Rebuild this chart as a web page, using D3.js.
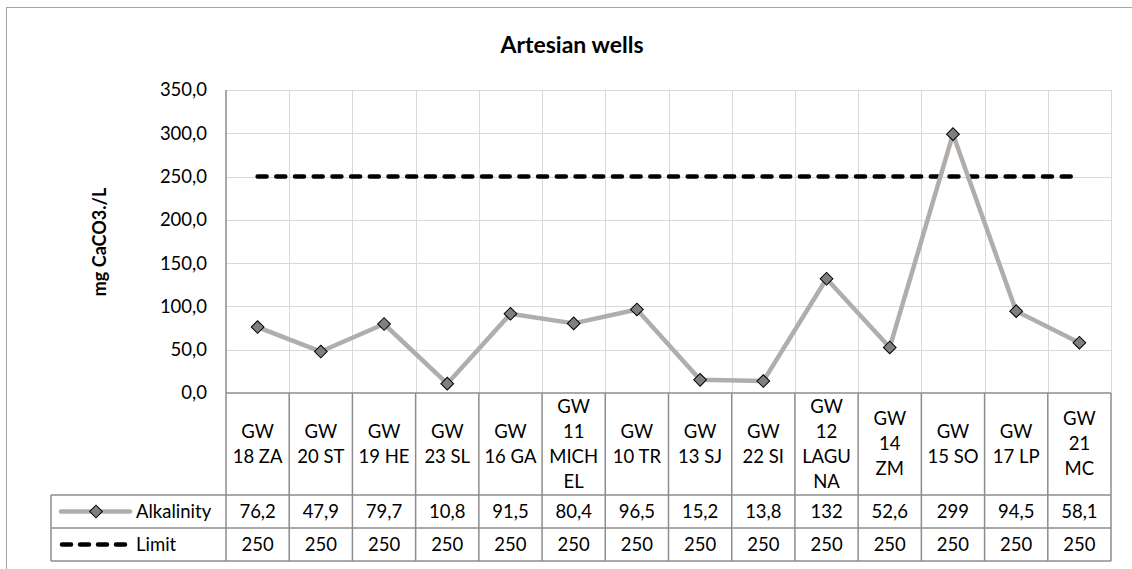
<!DOCTYPE html>
<html>
<head>
<meta charset="utf-8">
<script src="https://cdn.jsdelivr.net/npm/d3@7/dist/d3.min.js"></script>
<style>
  html, body { margin: 0; padding: 0; background: #fff; }
  svg { display: block; font-family: Lato, "DejaVu Sans", sans-serif; }
</style>
</head>
<body>
<svg id="chart" width="1132" height="569"></svg>
<script>
// Well names (lines of each table header cell)
const categories = [
  ["GW", "18 ZA"], ["GW", "20 ST"], ["GW", "19 HE"], ["GW", "23 SL"],
  ["GW", "16 GA"], ["GW", "11", "MICH", "EL"], ["GW", "10 TR"], ["GW", "13 SJ"],
  ["GW", "22 SI"], ["GW", "12", "LAGU", "NA"], ["GW", "14", "ZM"], ["GW", "15 SO"],
  ["GW", "17 LP"], ["GW", "21", "MC"]
];
const alkalinity = [76.2, 47.9, 79.7, 10.8, 91.5, 80.4, 96.5, 15.2, 13.8, 132, 52.6, 299, 94.5, 58.1];
const limit = [250, 250, 250, 250, 250, 250, 250, 250, 250, 250, 250, 250, 250, 250];
const yTicks = [0, 50, 100, 150, 200, 250, 300, 350];
const seriesNames = ["Alkalinity", "Limit"];

const svg = d3.select("#chart");
const W = 1132, H = 569;

const plot = { left: 226, right: 1111, top: 90, bottom: 393 };
const table = { legendLeft: 51, catBottom: 495, rowH: 33 };
const fs = 18.5;

const keys = categories.map(c => c.join(" "));
const x = d3.scaleBand().domain(keys).range([plot.left, plot.right]).padding(0);
const y = d3.scaleLinear().domain([0, 350]).range([plot.bottom, plot.top]);
const cx = k => x(k) + x.bandwidth() / 2;
const fmt = v => String(v).replace(".", ",");

// Chart frame
svg.append("rect")
  .attr("x", 6.5).attr("y", 7.5).attr("width", W).attr("height", H)
  .attr("fill", "none").attr("stroke", "#a6a6a6").attr("stroke-width", 1);

// Title
svg.append("text")
  .attr("x", 572).attr("y", 53)
  .attr("text-anchor", "middle")
  .attr("font-size", 23).attr("font-weight", "bold")
  .text("Artesian wells");

// Y axis title
svg.append("text")
  .attr("transform", "translate(106,242) rotate(-90)")
  .attr("text-anchor", "middle")
  .attr("font-size", 18).attr("font-weight", "bold")
  .text("mg CaCO3./L");

// Horizontal gridlines
svg.append("g").selectAll("line").data(yTicks.filter(t => t > 0)).join("line")
  .attr("x1", plot.left).attr("x2", plot.right)
  .attr("y1", d => Math.round(y(d)) + 0.5).attr("y2", d => Math.round(y(d)) + 0.5)
  .attr("stroke", "#d9d9d9").attr("stroke-width", 1);

// Vertical gridlines inside the plot
const bounds = keys.map(k => x(k)).concat([plot.right]);
svg.append("g").selectAll("line").data(bounds.slice(1)).join("line")
  .attr("x1", d => Math.round(d) + 0.5).attr("x2", d => Math.round(d) + 0.5)
  .attr("y1", plot.top).attr("y2", plot.bottom)
  .attr("stroke", "#d9d9d9").attr("stroke-width", 1);

// Y axis with tick labels
const yAxis = d3.axisLeft(y).tickValues(yTicks).tickSize(0).tickPadding(19)
  .tickFormat(d => d3.format(".1f")(d).replace(".", ","));
const gy = svg.append("g").attr("transform", `translate(${plot.left},0)`).call(yAxis);
gy.select(".domain").remove();
gy.selectAll("text").attr("font-size", fs).attr("fill", "#000")
  .attr("font-family", "Lato, 'DejaVu Sans', sans-serif");

// Data table grid
const tb = table.catBottom + 2 * table.rowH;
const gridColor = "#8c8c8c";
const tg = svg.append("g").attr("stroke", gridColor).attr("stroke-width", 1.5);
tg.append("line").attr("x1", plot.left).attr("x2", plot.left).attr("y1", plot.top).attr("y2", tb);
bounds.slice(1).forEach(b => {
  tg.append("line").attr("x1", b).attr("x2", b).attr("y1", plot.bottom).attr("y2", tb);
});
tg.append("line").attr("x1", table.legendLeft).attr("x2", table.legendLeft)
  .attr("y1", table.catBottom).attr("y2", tb);
tg.append("line").attr("x1", plot.left).attr("x2", plot.right).attr("y1", plot.bottom).attr("y2", plot.bottom);
[table.catBottom, table.catBottom + table.rowH, tb].forEach(yy => {
  tg.append("line").attr("x1", table.legendLeft).attr("x2", plot.right).attr("y1", yy).attr("y2", yy);
});

// Category header cells
const lineH = 25;
const cat = svg.append("g").selectAll("text").data(categories).join("text")
  .attr("text-anchor", "middle").attr("font-size", fs)
  .attr("x", (d, i) => cx(keys[i]));
cat.each(function(lines) {
  const mid = (plot.bottom + table.catBottom) / 2;
  const y0 = mid - (lines.length - 1) * lineH / 2 + 6;
  d3.select(this).selectAll("tspan").data(lines).join("tspan")
    .attr("x", d3.select(this).attr("x"))
    .attr("y", (t, j) => y0 + j * lineH)
    .text(t => t);
});

// Value rows
[alkalinity, limit].forEach((vals, r) => {
  const ry = table.catBottom + r * table.rowH + table.rowH / 2 + 6;
  svg.append("g").selectAll("text").data(vals).join("text")
    .attr("x", (d, i) => cx(keys[i])).attr("y", ry)
    .attr("text-anchor", "middle").attr("font-size", fs)
    .text(d => fmt(d));
  svg.append("text").attr("x", 136).attr("y", ry).attr("font-size", fs).text(seriesNames[r]);
});

// Limit series (dashed)
const line = d3.line().x((d, i) => cx(keys[i])).y(d => y(d));
const dashStyle = sel => sel.attr("fill", "none").attr("stroke", "#000")
  .attr("stroke-width", 4.5).attr("stroke-linecap", "round").attr("stroke-dasharray", "9 9.7");
svg.append("path").datum(limit).attr("d", line).call(dashStyle);

// Alkalinity series
const alkStroke = "#b1adab";
svg.append("path").datum(alkalinity).attr("d", line)
  .attr("fill", "none").attr("stroke", alkStroke).attr("stroke-width", 4.5)
  .attr("stroke-linejoin", "round");

const drawMarker = (g, px, py) => g.append("rect")
  .attr("x", -4.5).attr("y", -4.5).attr("width", 9).attr("height", 9)
  .attr("transform", `translate(${px},${py}) rotate(45)`)
  .attr("fill", "#7f7f7f").attr("stroke", "#000").attr("stroke-width", 1);
const mg = svg.append("g");
alkalinity.forEach((v, i) => drawMarker(mg, cx(keys[i]), y(v)));

// Legend keys in the table
const ly1 = table.catBottom + table.rowH / 2;
svg.append("line").attr("x1", 61).attr("x2", 130).attr("y1", ly1).attr("y2", ly1)
  .attr("stroke", alkStroke).attr("stroke-width", 4.5).attr("stroke-linecap", "round");
drawMarker(svg, 96, ly1);
const ly2 = table.catBottom + table.rowH * 1.5;
svg.append("line").attr("x1", 62).attr("x2", 129).attr("y1", ly2).attr("y2", ly2).call(dashStyle)
  .attr("stroke-dasharray", "9 9");
</script>
</body>
</html>
